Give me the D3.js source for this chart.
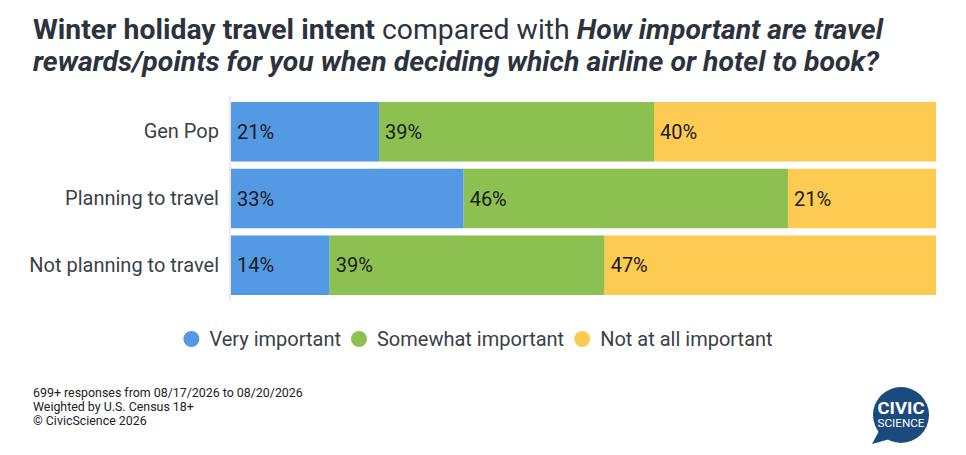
<!DOCTYPE html>
<html lang="en">
<head>
<meta charset="UTF-8">
<title>Winter holiday travel intent</title>
<script src="https://d3js.org/d3.v7.min.js"></script>
<style>
    body { margin: 0; background: #fff; font-family: Roboto, "Noto Sans", Arial, sans-serif; }
    svg { display: block; }
</style>
</head>
<body>
<svg id="chart" width="966" height="455"></svg>
<script>
    // Data
    const categories = ["Gen Pop", "Planning to travel", "Not planning to travel"];
    const seriesNames = ["Very important", "Somewhat important", "Not at all important"];
    const veryImportant = [21, 33, 14];
    const somewhatImportant = [39, 46, 39];
    const notAtAll = [40, 21, 47];
    const colors = ["#5499e4", "#8cc152", "#fdcb52"];
    const footnotes = [
        "699+ responses from 08/17/2026 to 08/20/2026",
        "Weighted by U.S. Census 18+",
        "\u00a9 CivicScience 2026"
    ];

    const svg = d3.select("#chart");
    const margin = { left: 231, right: 30, top: 96, bottom: 154 };
    const width = 966, height = 455;

    // Title
    const title = svg.append("text")
        .attr("x", 33).attr("y", 39)
        .attr("font-size", 28).attr("fill", "#2d333d")
        .attr("textLength", 850).attr("lengthAdjust", "spacingAndGlyphs");
    title.append("tspan").attr("font-weight", 700).text("Winter holiday travel intent");
    title.append("tspan").attr("font-weight", 400).text(" compared with ");
    title.append("tspan").attr("font-weight", 700).attr("font-style", "italic").text("How important are travel");
    svg.append("text")
        .attr("x", 33).attr("y", 71)
        .attr("font-size", 28).attr("fill", "#2d333d")
        .attr("font-weight", 700).attr("font-style", "italic")
        .attr("textLength", 846).attr("lengthAdjust", "spacingAndGlyphs")
        .text("rewards/points for you when deciding which airline or hotel to book?");

    // Scales
    const x = d3.scaleLinear().domain([0, 100]).range([margin.left, width - margin.right]);
    const y = d3.scaleBand().domain(categories)
        .range([margin.top, height - margin.bottom])
        .paddingInner(0.108).paddingOuter(0.09);

    const stackData = categories.map((c, i) => ({
        cat: c, 0: veryImportant[i], 1: somewhatImportant[i], 2: notAtAll[i]
    }));
    const stack = d3.stack().keys([0, 1, 2])(stackData);

    // Bars
    const layers = svg.append("g").selectAll("g")
        .data(stack).join("g")
        .attr("fill", (d, i) => colors[i]);

    layers.selectAll("rect")
        .data(d => d)
        .join("rect")
        .attr("x", d => x(d[0]))
        .attr("y", d => y(d.data.cat))
        .attr("width", d => x(d[1]) - x(d[0]))
        .attr("height", y.bandwidth());

    // Value labels
    layers.selectAll("text")
        .data(d => d)
        .join("text")
        .attr("x", d => x(d[0]) + 6)
        .attr("y", d => y(d.data.cat) + y.bandwidth() / 2)
        .attr("dy", "0.35em")
        .attr("font-size", 20)
        .attr("fill", "#1a1a1a")
        .text(d => (d[1] - d[0]) + "%");

    // Axis line and category labels
    const yAxis = svg.append("g")
        .attr("transform", `translate(${margin.left - 1},0)`)
        .call(d3.axisLeft(y).tickSize(0).tickPadding(11));
    yAxis.select(".domain").attr("stroke", "#d9d9d9").attr("d", `M0,${margin.top}V${height - margin.bottom}`);
    yAxis.selectAll("text").attr("font-size", 20).attr("font-family", "Roboto").attr("fill", "#3a3f47");

    // Legend
    const legend = svg.append("g");
    let lx = 0;
    seriesNames.forEach((name, i) => {
        const g = legend.append("g").attr("transform", `translate(${lx},0)`);
        g.append("circle").attr("cx", 8).attr("cy", 0).attr("r", 8).attr("fill", colors[i]);
        const t = g.append("text").attr("x", 26).attr("dy", "0.35em")
            .attr("font-size", 20).attr("fill", "#3a3f47").text(name);
        lx += 26 + t.node().getComputedTextLength() + 10;
    });
    const legendW = lx - 10;
    legend.attr("transform", `translate(${478 - legendW / 2},339)`);

    // Footnotes
    svg.append("g").selectAll("text")
        .data(footnotes).join("text")
        .attr("x", 33)
        .attr("y", (d, i) => 397 + i * 14)
        .attr("font-size", 12.4)
        .attr("fill", "#222")
        .text(d => d);

    // Logo
    const logo = svg.append("g").attr("transform", "translate(901,415)");
    logo.append("circle").attr("r", 28).attr("fill", "#1b4b7d");
    logo.append("path").attr("d", "M-22,16 L-29,29 L-11,24 Z").attr("fill", "#1b4b7d");
    logo.append("text").attr("y", -1).attr("text-anchor", "middle")
        .attr("font-size", 17).attr("font-weight", 700).attr("fill", "#fff")
        .attr("textLength", 47).attr("lengthAdjust", "spacingAndGlyphs").text("CIVIC");
    logo.append("text").attr("y", 12).attr("text-anchor", "middle")
        .attr("font-size", 10.5).attr("fill", "#fff")
        .attr("textLength", 47).attr("lengthAdjust", "spacingAndGlyphs").text("SCIENCE");
</script>
</body>
</html>
